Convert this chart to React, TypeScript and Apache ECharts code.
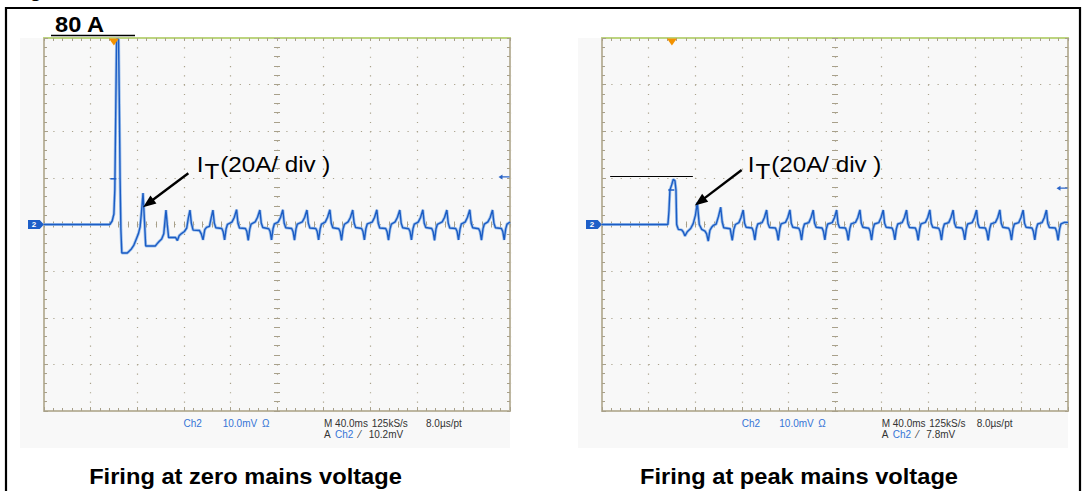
import React, { useEffect, useRef } from "react";
import * as echarts from "echarts";

// ---- Scope scale (10 div x 40 ms, 8 div x 20 A) ----
const TIME_MAX = 400;
const TIME_DIV = 40;
const AMP_MIN = -80;
const AMP_MAX = 80;
const AMP_DIV = 20;

// ---- Trace: firing at zero mains voltage (ms, A) ----
const zeroTrace: [number, number][] = [
  [0, 0], [56.5, 0], [58.5, 1.5], [60, 4.5], [60.8, 15], [61.5, 45], [62.3, 79.5], [64, 79.5],
  [64.6, 55], [65.3, 20], [66, -2], [66.8, -12.2], [71.5, -12.2], [73, -11.5], [75, -10.5],
  [77, -9], [79, -6.5], [81, -4], [82.5, -1], [83.8, 6], [85, 13.5], [86, 4], [87.3, -9.2],
  [95.5, -9.2], [97, -8.3], [99, -7.2], [101, -6.2], [102.8, -4], [104.7, 6.2], [105.8, 0],
  [107, -5.6], [113, -5.6], [114.5, -6.9], [116, -4.8], [118, -3.9], [120.5, -3], [122.5, -1.5],
  [123.8, 2.5], [125.3, 6.2], [126.5, 0.5], [128, -2.4], [133.5, -2.6], [135, -4], [136.5, -6.6],
  [138, -2.2], [139.5, -1.2], [142, -0.8], [143.5, 2.8], [145, 6.2],
  [146.2, 0.6], [147.5, -1.4], [152.6, -1.7], [153.8, -3.1], [155, -6.6], [156.3, -1.9], [157.5, 0.1], [161.3, 1.0], [163.3, 3.0], [165.3, 6.4],
  [166.5, 0.5], [167.8, -1.5], [172.9, -1.7], [174.1, -3.0], [175.3, -6.8], [176.6, -2.0], [177.8, 0.2], [181.3, 1.1], [183.3, 3.1], [185.3, 6.2],
  [186.5, 0.6], [187.8, -1.3], [192.9, -1.8], [194.1, -3.0], [195.3, -6.6], [196.6, -1.8], [197.8, 0.3], [201, 1.0], [203, 3.0], [205, 6.3],
  [206.2, 0.5], [207.5, -1.4], [212.6, -1.7], [213.8, -3.1], [215, -6.7], [216.3, -1.9], [217.5, 0.2], [221.7, 1.1], [223.7, 3.0], [225.7, 6.2],
  [226.9, 0.6], [228.2, -1.5], [233.3, -1.7], [234.5, -3.0], [235.7, -6.6], [237, -2.0], [238.2, 0.2], [241.4, 1.0], [243.4, 3.1], [245.4, 6.3],
  [246.6, 0.5], [247.9, -1.4], [253, -1.8], [254.2, -3.1], [255.4, -6.8], [256.7, -1.9], [257.9, 0.1], [261, 1.1], [263, 3.0], [265, 6.2],
  [266.2, 0.6], [267.5, -1.3], [272.6, -1.7], [273.8, -3.0], [275, -6.6], [276.3, -1.8], [277.5, 0.3], [281.7, 1.0], [283.7, 3.0], [285.7, 6.3],
  [286.9, 0.5], [288.2, -1.5], [293.3, -1.7], [294.5, -3.1], [295.7, -6.7], [297, -2.0], [298.2, 0.2], [301.4, 1.1], [303.4, 3.1], [305.4, 6.2],
  [306.6, 0.6], [307.9, -1.4], [313, -1.8], [314.2, -3.0], [315.4, -6.6], [316.7, -1.9], [317.9, 0.2], [321.2, 1.0], [323.2, 3.0], [325.2, 6.3],
  [326.4, 0.5], [327.7, -1.3], [332.8, -1.7], [334, -3.1], [335.2, -6.8], [336.5, -1.8], [337.7, 0.1], [341.8, 1.1], [343.8, 3.0], [345.8, 6.2],
  [347, 0.6], [348.3, -1.5], [353.4, -1.7], [354.6, -3.0], [355.8, -6.6], [357.1, -2.0], [358.3, 0.3], [361.5, 1.0], [363.5, 3.1], [365.5, 6.3],
  [366.7, 0.5], [368, -1.4], [373.1, -1.8], [374.3, -3.1], [375.5, -6.7], [376.8, -1.9], [378, 0.2], [381, 1.1], [383, 3.0], [385, 6.2],
  [386.2, 0.6], [387.5, -1.4], [392.6, -1.7], [393.8, -3.0], [395, -6.6], [396.3, -1.9], [397.5, 0.2], [400, 1.0],
];

// ---- Trace: firing at peak mains voltage (ms, A) ----
const peakTrace: [number, number][] = [
  [0, 0], [56.6, 0], [57.5, 6], [58.3, 14.8], [59.8, 17], [61.2, 19.4], [62.6, 18.8], [63.5, 14.8],
  [64.1, 0], [65.5, -2.1], [68.4, -2.3], [69.8, -3.2], [71.2, -4.9], [73.2, -3.1], [76.1, -1.7],
  [78.3, 0.4], [80.2, 4], [81.8, 9.4], [83.5, 0], [85.6, -2.1], [88.4, -2.8], [89.8, -4],
  [91.2, -7.1], [92.6, -2.5], [94.1, -1.2], [95.5, -0.4], [98, 0.2], [100, 3.5], [101.9, 7.4],
  [103.2, 1], [104.5, -1.4], [110, -1.8], [111.8, -6.8], [113.2, -2], [114.5, 0], [117.5, 0.8],
  [119.3, 3], [121.2, 6.2],
  [122.4, 0.5], [123.7, -1.2], [128.8, -1.5], [130, -3.0], [131.2, -6.7], [132.5, -1.8], [133.7, 0.2], [137.4, 0.8], [139.4, 3.0], [141.3, 6.2],
  [142.5, 0.4], [143.8, -1.3], [148.9, -1.5], [150.1, -3.1], [151.3, -6.8], [152.6, -1.9], [153.8, 0.3], [157.5, 0.9], [159.5, 3.0], [161.3, 6.3],
  [162.5, 0.5], [163.8, -1.2], [168.9, -1.6], [170.1, -3.0], [171.3, -6.7], [172.6, -1.8], [173.8, 0.2], [177.5, 0.8], [179.5, 3.1], [181.3, 6.2],
  [182.5, 0.5], [183.8, -1.2], [188.9, -1.5], [190.1, -3.0], [191.3, -6.6], [192.6, -1.8], [193.8, 0.2], [197.6, 0.8], [199.6, 3.0], [201.4, 6.2],
  [202.6, 0.4], [203.9, -1.3], [209, -1.5], [210.2, -3.1], [211.4, -6.8], [212.7, -1.9], [213.9, 0.3], [217.6, 0.9], [219.6, 3.0], [221.4, 6.3],
  [222.6, 0.5], [223.9, -1.2], [229, -1.6], [230.2, -3.0], [231.4, -6.7], [232.7, -1.8], [233.9, 0.2], [237.6, 0.8], [239.6, 3.1], [241.4, 6.2],
  [242.6, 0.5], [243.9, -1.2], [249, -1.5], [250.2, -3.0], [251.4, -6.6], [252.7, -1.8], [253.9, 0.2], [257.6, 0.8], [259.6, 3.0], [261.4, 6.2],
  [262.6, 0.4], [263.9, -1.3], [269, -1.5], [270.2, -3.1], [271.4, -6.8], [272.7, -1.9], [273.9, 0.3], [277.6, 0.9], [279.6, 3.0], [281.4, 6.3],
  [282.6, 0.5], [283.9, -1.2], [289, -1.6], [290.2, -3.0], [291.4, -6.7], [292.7, -1.8], [293.9, 0.2], [297.6, 0.8], [299.6, 3.1], [301.4, 6.2],
  [302.6, 0.5], [303.9, -1.2], [309, -1.5], [310.2, -3.0], [311.4, -6.6], [312.7, -1.8], [313.9, 0.2], [317.7, 0.8], [319.7, 3.0], [321.5, 6.2],
  [322.7, 0.4], [324, -1.3], [329.1, -1.5], [330.3, -3.1], [331.5, -6.8], [332.8, -1.9], [334, 0.3], [337.7, 0.9], [339.7, 3.0], [341.5, 6.3],
  [342.7, 0.5], [344, -1.2], [349.1, -1.6], [350.3, -3.0], [351.5, -6.7], [352.8, -1.8], [354, 0.2], [357.7, 0.8], [359.7, 3.1], [361.5, 6.2],
  [362.7, 0.5], [364, -1.2], [369.1, -1.5], [370.3, -3.0], [371.5, -6.6], [372.8, -1.8], [374, 0.2], [377.7, 0.8], [379.7, 3.0], [381.5, 6.2],
  [382.7, 0.4], [384, -1.3], [389.1, -1.5], [390.3, -3.1], [391.5, -6.8], [392.8, -1.9], [394, 0.3], [397, 0.9], [400, 0.9],
];

// ---- Annotation values (data coordinates) ----
const triggerTime = 60;
const zeroTriggerLevel = 20.4; // 10.2 mV
const peakTriggerLevel = 15.6; // 7.8 mV
const peakLevelLine: [number, number, number] = [7, 78, 20.8];
const zeroArrow: [[number, number], [number, number]] = [[123.9, 22.0], [89.5, 9.1]];
const peakArrow: [[number, number], [number, number]] = [[119.9, 23.4], [84.1, 9.8]];

const captions = ["Firing at zero mains voltage", "Firing at peak mains voltage"];
const triggerReadouts = ["10.2mV", "7.8mV"];

// ---- Layout / style ----
const GRID_TOP = 38;
const GRID_W = 466;
const GRID_H = 373;
const GRID_LEFTS = [44, 602];
const BORDER = "#bdb6a0";
const TOP_BORDER = "#bcd47e";
const TICK = "#a8a08a";
const DOT = "#aaa28c";
const TRACE = "#1b5cc4";
const HALO = "#92b8ea";
const BLUE_TXT = "#3574d6";
const FONT = "'Liberation Sans', Arial, sans-serif";

function axesFor(gi: number) {
  const base = { gridIndex: gi, type: "value" as const, axisLabel: { show: false }, silent: true };
  const xs = [
    {
      ...base, min: 0, max: TIME_MAX, interval: TIME_DIV, position: "bottom",
      axisLine: { show: true, onZero: false, lineStyle: { color: BORDER, width: 2 } },
      axisTick: { show: true, inside: true, length: 4, lineStyle: { color: TICK } },
      minorTick: { show: true, splitNumber: 5, length: 3, lineStyle: { color: TICK } },
      splitLine: { show: true, lineStyle: { color: DOT, width: 1.2, type: [1.2, 8.12] } },
    },
    {
      ...base, min: 0, max: TIME_MAX, interval: TIME_DIV, position: "top",
      axisLine: { show: true, onZero: false, lineStyle: { color: TOP_BORDER, width: 2 } },
      axisTick: { show: true, inside: true, length: 3, lineStyle: { color: TICK } },
      minorTick: { show: true, splitNumber: 5, length: 3, lineStyle: { color: TICK } },
      splitLine: { show: false },
    },
    {
      ...base, min: 0, max: TIME_MAX, interval: TIME_DIV, position: "bottom", offset: -(GRID_H / 2 - 3),
      axisLine: { show: false, onZero: false },
      axisTick: { show: true, inside: true, length: 6, lineStyle: { color: TICK } },
      minorTick: { show: true, splitNumber: 5, length: 6, lineStyle: { color: TICK } },
      splitLine: { show: false },
    },
  ];
  const ys = [
    {
      ...base, min: AMP_MIN, max: AMP_MAX, interval: AMP_DIV, position: "left",
      axisLine: { show: true, onZero: false, lineStyle: { color: BORDER, width: 2 } },
      axisTick: { show: true, inside: true, length: 4, lineStyle: { color: TICK } },
      minorTick: { show: true, splitNumber: 5, length: 3, lineStyle: { color: TICK } },
      splitLine: { show: true, lineStyle: { color: DOT, width: 1.2, type: [1.2, 8.12] } },
    },
    {
      ...base, min: AMP_MIN, max: AMP_MAX, interval: AMP_DIV, position: "right",
      axisLine: { show: true, onZero: false, lineStyle: { color: BORDER, width: 2 } },
      axisTick: { show: true, inside: true, length: 3, lineStyle: { color: TICK } },
      minorTick: { show: true, splitNumber: 5, length: 3, lineStyle: { color: TICK } },
      splitLine: { show: false },
    },
    {
      ...base, min: AMP_MIN, max: AMP_MAX, interval: AMP_DIV, position: "left", offset: -(GRID_W / 2 - 3),
      axisLine: { show: false, onZero: false },
      axisTick: { show: true, inside: true, length: 6, lineStyle: { color: TICK } },
      minorTick: { show: true, splitNumber: 5, length: 6, lineStyle: { color: TICK } },
      splitLine: { show: false },
    },
  ];
  return { xs, ys };
}

function traceSeries(gi: number, data: [number, number][], trigLevel: number, extraLines: any[]) {
  const axisIdx = gi * 3;
  const common = {
    type: "line", xAxisIndex: axisIdx, yAxisIndex: axisIdx, data, showSymbol: false,
    symbol: "none", silent: true, animation: false,
  };
  return [
    { ...common, z: 3, lineStyle: { color: HALO, width: 3, opacity: 0.85 } },
    {
      ...common, z: 4, lineStyle: { color: TRACE, width: 1.4 },
      markPoint: {
        silent: true, animation: false, label: { show: false },
        data: [
          {
            coord: [TIME_MAX, trigLevel], symbol: "path://M0,3L4,0L4,2.2L11,2.2L11,3.8L4,3.8L4,6Z",
            symbolSize: [11, 5], symbolOffset: [-6, 0], itemStyle: { color: "#2a64c8" },
          },
          {
            coord: [triggerTime, AMP_MAX], symbol: "triangle", symbolRotate: 180,
            symbolSize: [10, 7], symbolOffset: [0, 4], itemStyle: { color: "#f39200" },
          },
          {
            coord: [triggerTime - 0.5, trigLevel - 0.8], symbol: "rect", symbolSize: [6, 1.5],
            itemStyle: { color: TRACE },
          },
          {
            coord: [0, 0], symbol: "path://M0,0L11,0L15,4.5L11,9L0,9Z", symbolSize: [16, 9],
            symbolOffset: [-8, 0], itemStyle: { color: "#1e5fc8" },
            label: {
              show: true, formatter: "2", color: "#fff", fontSize: 8, fontWeight: "bold",
              position: "inside", offset: [-2, 0], fontFamily: FONT,
            },
          },
        ],
      },
      markLine: {
        silent: true, animation: false, label: { show: false }, symbol: ["none", "none"],
        data: extraLines,
      },
    },
  ];
}

function arrowLine(a: [[number, number], [number, number]]) {
  return [
    { coord: a[0], symbol: "none", lineStyle: { color: "#000", width: 2.4, type: "solid" } },
    { coord: a[1], symbol: "triangle", symbolSize: [10, 13] },
  ];
}

function txt(x: number, y: number, text: string, opts: any = {}) {
  const { scaleX, ...style } = opts;
  return {
    type: "text", x, y, z: 50, scaleX: scaleX ?? 1, silent: true,
    style: { text, fill: "#000", fontFamily: FONT, fontSize: 10, verticalAlign: "middle", align: "left", ...style },
  };
}

function scopeTexts(pos: any, readout: string) {
  const s = { fontSize: 10, fill: "#333" };
  return [
    txt(pos.ch, 423.5, "Ch2", { ...s, fill: BLUE_TXT }),
    txt(pos.mv, 423.5, "10.0mV", { ...s, fill: BLUE_TXT }),
    txt(pos.om, 423.5, "Ω", { ...s, fill: BLUE_TXT }),
    txt(pos.m, 423.5, "M 40.0ms", s),
    txt(pos.ks, 423.5, "125kS/s", s),
    txt(pos.pt, 423.5, "8.0µs/pt", s),
    txt(pos.m, 434, "A", s),
    txt(pos.m + 11, 434, "Ch2", { ...s, fill: BLUE_TXT }),
    txt(pos.m + 35, 434, "⁄", s),
    txt(pos.ks - 3, 434, readout, s),
  ];
}

function label(ix: number) {
  return [
    txt(ix, 164.1, "I", { fontSize: 22, scaleX: 1.1 }),
    txt(ix + 7.7, 170.9, "T", { fontSize: 22, scaleX: 1.1 }),
    txt(ix + 23.5, 164.4, "(20A/ div )", { fontSize: 22, scaleX: 1.1 }),
  ];
}

export default function App() {
  const ref = useRef<HTMLDivElement>(null);
  useEffect(() => {
    if (!ref.current) return;
    const chart = echarts.init(ref.current, undefined, { renderer: "svg" });
    const a0 = axesFor(0);
    const a1 = axesFor(1);
    const graphic: any[] = [
      { type: "rect", z: -5, silent: true, shape: { x: 20, y: 38, width: 490, height: 410 }, style: { fill: "#f8f8f8" } },
      { type: "rect", z: -5, silent: true, shape: { x: 578, y: 38, width: 490, height: 410 }, style: { fill: "#f8f8f8" } },
      { type: "rect", z: 40, silent: true, shape: { x: 6, y: 8, width: 1074, height: 600 }, style: { fill: "none", stroke: "#000", lineWidth: 2.2 } },
      txt(13.5, -7.6, "Figure", { fontSize: 17, fontWeight: "bold", scaleX: 1.1 }),
      txt(55, 25.1, "80 A", { fontSize: 21.5, fontWeight: "bold", scaleX: 1.1 }),
      { type: "line", z: 40, silent: true, shape: { x1: 51, y1: 35.5, x2: 135, y2: 35.5 }, style: { stroke: "#000", lineWidth: 1.6 } },
      ...label(196.7),
      ...label(747.7),
      ...scopeTexts({ ch: 183.5, mv: 222.7, om: 262, m: 324, ks: 371.7, pt: 426 }, triggerReadouts[0]),
      ...scopeTexts({ ch: 741.7, mv: 779.3, om: 818.3, m: 881.7, ks: 929.3, pt: 976.7 }, triggerReadouts[1]),
      txt(245.5, 477, captions[0], { fontSize: 21.5, fontWeight: "bold", align: "center", scaleX: 1.1 }),
      txt(799, 477, captions[1], { fontSize: 21.5, fontWeight: "bold", align: "center", scaleX: 1.1 }),
    ];
    chart.setOption({
      animation: false,
      grid: GRID_LEFTS.map((l) => ({ left: l, top: GRID_TOP, width: GRID_W, height: GRID_H, containLabel: false })),
      xAxis: [...a0.xs, ...a1.xs],
      yAxis: [...a0.ys, ...a1.ys],
      series: [
        ...traceSeries(0, zeroTrace, zeroTriggerLevel, [arrowLine(zeroArrow)]),
        ...traceSeries(1, peakTrace, peakTriggerLevel, [
          [
            { coord: [peakLevelLine[0], peakLevelLine[2]], lineStyle: { color: "#000", width: 1.2, type: "solid" } },
            { coord: [peakLevelLine[1], peakLevelLine[2]] },
          ],
          arrowLine(peakArrow),
        ]),
      ],
      graphic,
    });
    return () => chart.dispose();
  }, []);
  return <div ref={ref} style={{ position: "fixed", left: 0, top: 0, width: 1082, height: 491, background: "#fff" }} />;
}
